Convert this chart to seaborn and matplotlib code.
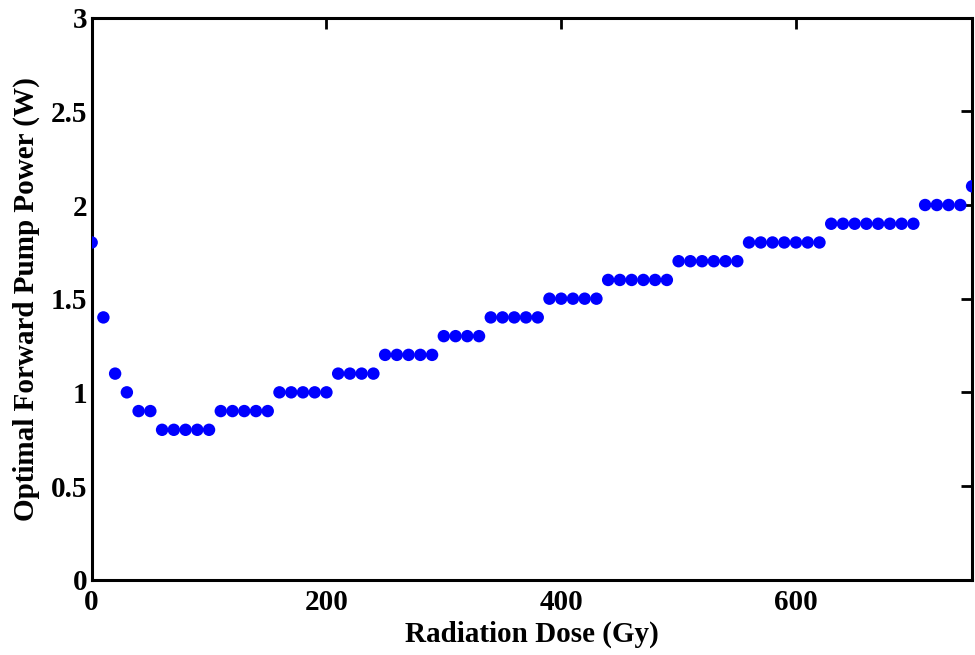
import matplotlib
matplotlib.use("Agg")
import matplotlib.pyplot as plt
import seaborn as sns
import pandas as pd
import numpy as np

# Radiation dose (Gy) and optimal forward pump power (W)
dose = list(range(0, 760, 10))
power = ([1.8, 1.4, 1.1, 1.0, 0.9, 0.9]
         + [0.8] * 5 + [0.9] * 5 + [1.0] * 5 + [1.1] * 4 + [1.2] * 5
         + [1.3] * 4 + [1.4] * 5 + [1.5] * 5 + [1.6] * 6 + [1.7] * 6
         + [1.8] * 7 + [1.9] * 8 + [2.0] * 4 + [2.1])

df = pd.DataFrame({'Dose': dose, 'Power': power})

sns.set_style('white')
plt.rcParams['font.family'] = ['Liberation Serif', 'DejaVu Serif']
plt.rcParams['font.weight'] = 'bold'
plt.rcParams['text.color'] = 'black'
plt.rcParams['axes.labelcolor'] = 'black'
plt.rcParams['xtick.color'] = 'black'
plt.rcParams['ytick.color'] = 'black'

fig = plt.figure(figsize=(9.75, 6.55), dpi=100)
ax = fig.add_axes([0.094, 0.115, 0.903, 0.858])

sns.scatterplot(x='Dose', y='Power', data=df, ax=ax, color='#0000ff',
                s=80, edgecolor='none', linewidth=0, zorder=3)

ax.set_xlim(0, 750)
ax.set_ylim(0, 3)
ax.set_xticks([0, 200, 400, 600])
ax.set_yticks([0, 0.5, 1, 1.5, 2, 2.5, 3])
ax.set_yticklabels(['0', '0.5', '1', '1.5', '2', '2.5', '3'])

ax.set_xlabel('Radiation Dose (Gy)', fontsize=21, fontweight='bold', labelpad=3)
ax.set_ylabel('Optimal Forward Pump Power (W)', fontsize=21, fontweight='bold', labelpad=8)

ax.tick_params(direction='in', length=8, width=2, labelsize=21,
               top=True, right=True)
ax.tick_params(axis='x', pad=7)
ax.tick_params(axis='y', pad=3)
for lbl in ax.get_xticklabels() + ax.get_yticklabels():
    lbl.set_fontweight('bold')
for sp in ax.spines.values():
    sp.set_visible(True)
    sp.set_linewidth(2.2)
    sp.set_color('black')

fig.savefig('out.png', dpi=100)
